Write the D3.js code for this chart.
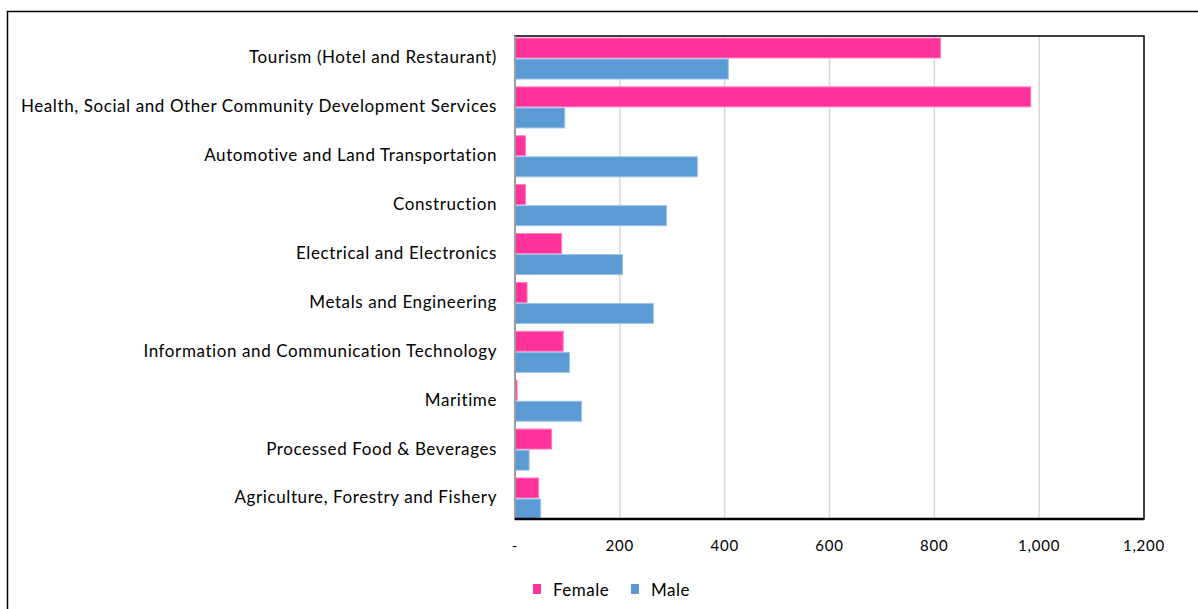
<!DOCTYPE html>
<html>
<head>
<meta charset="utf-8">
<script src="https://cdn.jsdelivr.net/npm/d3@7"></script>
<style>
  body { margin: 0; background: #fff; }
  text { font-family: Lato, "Open Sans", sans-serif; fill: #000; }
</style>
</head>
<body>
<script>
// data
var categories = ["Tourism (Hotel and Restaurant)",
  "Health, Social and Other Community Development Services",
  "Automotive and Land Transportation",
  "Construction",
  "Electrical and Electronics",
  "Metals and Engineering",
  "Information and Communication Technology",
  "Maritime",
  "Processed Food & Beverages",
  "Agriculture, Forestry and Fishery"];
var female = [811, 983, 19, 19, 88, 22, 91, 3, 69, 44];
var male = [406, 94, 347, 288, 204, 263, 103, 126, 26, 48];
var seriesNames = ["Female", "Male"];
var tickValues = [0, 200, 400, 600, 800, 1000, 1200];

var colors = {Female: "#ff3399", Male: "#5b9bd5"};
var strokes = {Female: "#ff80c0", Male: "#9dc3e6"};

var W = 1198, H = 609;
var margin = {top: 36, right: 55, bottom: 90, left: 515},
    width = 1144 - margin.left,
    height = 519 - margin.top;

var svg = d3.select("body").append("svg")
  .attr("width", W)
  .attr("height", H);

// outer frame (runs off the right and bottom edges)
svg.append("rect")
  .attr("x", 7.5).attr("y", 11.5)
  .attr("width", W + 10).attr("height", H + 10)
  .attr("fill", "none").attr("stroke", "#000").attr("stroke-width", 1.5);

var g = svg.append("g")
  .attr("transform", "translate(" + margin.left + "," + margin.top + ")");

var x = d3.scaleLinear().domain([0, 1200]).range([0, width]);
var y = d3.scaleBand().domain(categories).range([0, height]).paddingInner(0.16).paddingOuter(0.02);
var ySub = d3.scaleBand().domain(seriesNames).range([0, y.bandwidth()]).paddingInner(0.05);

// gridlines
g.selectAll(".grid")
  .data(tickValues.filter(function(d) { return d > 0 && d < 1200; }))
  .enter().append("line")
  .attr("x1", function(d) { return x(d); })
  .attr("x2", function(d) { return x(d); })
  .attr("y1", 0).attr("y2", height)
  .attr("stroke", "#d9d9d9").attr("stroke-width", 1.5);

var rows = categories.map(function(c, i) {
  return {cat: c, values: [{name: "Female", v: female[i]}, {name: "Male", v: male[i]}]};
});

var row = g.selectAll(".row")
  .data(rows).enter().append("g")
  .attr("class", "row")
  .attr("transform", function(d) { return "translate(0," + (y(d.cat) + 1) + ")"; });

row.selectAll("rect")
  .data(function(d) { return d.values; })
  .enter().append("rect")
  .attr("x", x(0) + 0.5)
  .attr("y", function(d) { return ySub(d.name); })
  .attr("width", function(d) { return Math.max(0, x(d.v) - x(0)); })
  .attr("height", ySub.bandwidth())
  .attr("fill", function(d) { return colors[d.name]; })
  .attr("stroke", function(d) { return strokes[d.name]; })
  .attr("stroke-width", 1);

// plot frame
g.append("rect")
  .attr("x", 0).attr("y", 0)
  .attr("width", width).attr("height", height)
  .attr("fill", "none").attr("stroke", "#000").attr("stroke-width", 1.5);
g.append("line")
  .attr("x1", 0).attr("x2", 0).attr("y1", 0).attr("y2", height)
  .attr("stroke", "#bfbfbf").attr("stroke-width", 1.5);
g.append("line")
  .attr("x1", 0).attr("x2", width).attr("y1", height).attr("y2", height)
  .attr("stroke", "#000").attr("stroke-width", 2.5);

// category labels
g.selectAll(".cat")
  .data(categories).enter().append("text")
  .attr("x", -18)
  .attr("y", function(d) { return y(d) + y.bandwidth() / 2; })
  .attr("dy", "0.35em")
  .attr("text-anchor", "end")
  .style("font-size", "17px")
  .style("letter-spacing", "0.6px")
  .text(function(d) { return d; });

// x tick labels
var fmt = d3.format(",");
g.selectAll(".tick")
  .data(tickValues).enter().append("text")
  .attr("x", function(d) { return x(d); })
  .attr("y", height + 32)
  .attr("text-anchor", "middle")
  .style("font-size", "15px")
  .style("letter-spacing", "0.8px")
  .text(function(d) { return d === 0 ? "-" : fmt(d); });

// legend
var legend = svg.selectAll(".legend")
  .data(seriesNames).enter().append("g")
  .attr("class", "legend")
  .attr("transform", function(d, i) { return "translate(" + (533 + i * 98) + ",584)"; });

legend.append("rect")
  .attr("width", 8).attr("height", 10)
  .attr("fill", function(d) { return colors[d]; });

legend.append("text")
  .attr("x", 20).attr("y", 6)
  .attr("dy", "0.35em")
  .style("font-size", "17px")
  .style("letter-spacing", "0.5px")
  .text(function(d) { return d; });
</script>
</body>
</html>
